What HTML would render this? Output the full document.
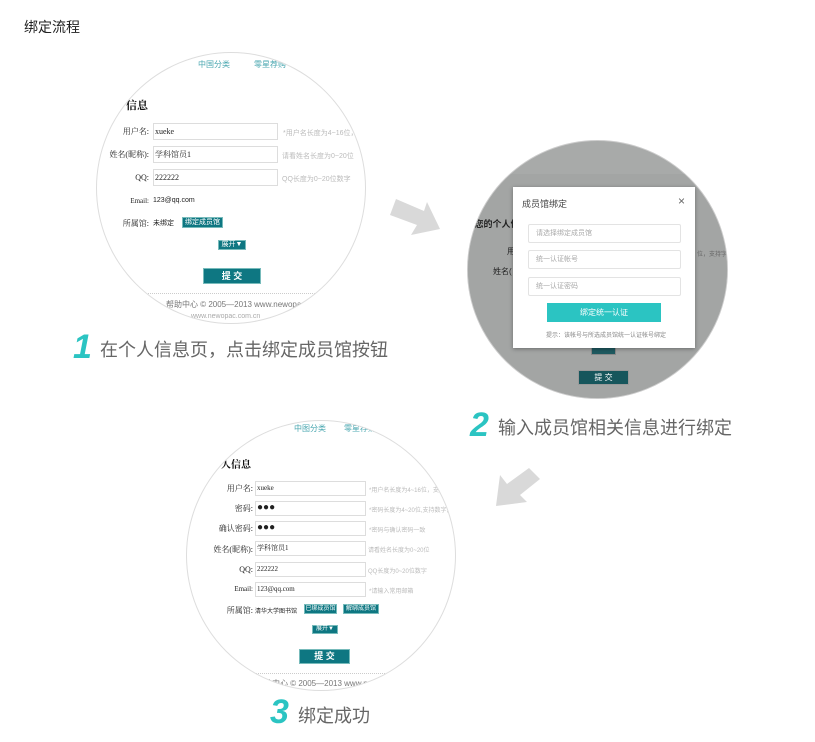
<!DOCTYPE html>
<html><head><meta charset="utf-8">
<style>
*{margin:0;padding:0;box-sizing:border-box}
body{width:815px;height:742px;background:#fff;position:relative;overflow:hidden;font-family:"Liberation Sans","Noto Sans CJK SC",sans-serif}
.a{position:absolute;white-space:nowrap}
.circ{position:absolute;border-radius:50%;overflow:hidden;border:1px solid #ddd;background:#fff}
.in{position:absolute;border:1px solid #ddd;background:#fff;font-size:8px;color:#222;padding-left:1px;line-height:15px;font-family:"Liberation Serif","Noto Serif CJK SC",serif}
.lb{position:absolute;font-size:8px;color:#222;text-align:right;font-family:"Liberation Serif","Noto Serif CJK SC",serif}
.hint{position:absolute;font-size:7px;color:#bbb;white-space:nowrap}
.btn{position:absolute;background:#0e7782;color:#fff;font-size:7px;text-align:center;border:1px solid #7bb}
.nav{position:absolute;font-size:8px;color:#4aa7b0}
.num{position:absolute;font-size:34px;font-weight:bold;font-style:italic;color:#2bc4c2;line-height:34px}
.cap{position:absolute;font-size:18px;color:#666;line-height:22px;white-space:nowrap}
</style></head><body>
<div class="a" style="left:24px;top:17px;font-size:14px;color:#222">绑定流程</div>

<!-- circle 1 -->
<div class="circ" style="left:96px;top:52px;width:270px;height:272px">
 <div style="position:absolute;left:-96px;top:-52px;width:815px;height:742px">
  <div class="nav" style="left:197px;top:58px">中国分类</div>
  <div class="nav" style="left:253px;top:58px">零星荐购</div>
  <div class="a" style="left:125px;top:96px;font-size:11px;font-weight:bold;color:#111;font-family:'Liberation Serif','Noto Serif CJK SC',serif">信息</div>
  <div class="lb" style="left:90px;top:125px;width:58px">用户名:</div>
  <div class="in" style="left:152px;top:122px;width:125px;height:17px">xueke</div>
  <div class="hint" style="left:282px;top:127px">*用户名长度为4~16位，支</div>
  <div class="lb" style="left:90px;top:148px;width:58px">姓名(昵称):</div>
  <div class="in" style="left:152px;top:145px;width:125px;height:17px">学科馆员1</div>
  <div class="hint" style="left:281px;top:150px">请看姓名长度为0~20位</div>
  <div class="lb" style="left:90px;top:172px;width:58px">QQ:</div>
  <div class="in" style="left:152px;top:168px;width:125px;height:17px">222222</div>
  <div class="hint" style="left:281px;top:173px">QQ长度为0~20位数字</div>
  <div class="lb" style="left:90px;top:196px;width:58px;font-size:7px">Email:</div>
  <div class="a" style="left:152px;top:196px;font-size:7px;color:#222">123@qq.com</div>
  <div class="lb" style="left:90px;top:217px;width:58px">所属馆:</div>
  <div class="a" style="left:152px;top:217px;font-size:7px;color:#222">未绑定</div>
  <div class="btn" style="left:181px;top:216px;width:41px;height:11px;line-height:9px">绑定成员馆</div>
  <div class="btn" style="left:217px;top:239px;width:28px;height:10px;line-height:8px">展开▼</div>
  <div class="btn" style="left:202px;top:267px;width:58px;height:16px;line-height:14px;font-size:9px;font-weight:bold">提 交</div>
  <div style="position:absolute;left:110px;top:292px;width:250px;border-top:1px dotted #ccc"></div>
  <div class="a" style="left:165px;top:298px;font-size:8px;color:#777">帮助中心 © 2005—2013 www.newopac</div>
  <div class="a" style="left:190px;top:312px;font-size:7px;color:#aaa">www.newopac.com.cn</div>
 </div>
</div>
<div class="num" style="left:73px;top:330px">1</div>
<div class="cap" style="left:100px;top:339px">在个人信息页，点击绑定成员馆按钮</div>

<svg class="a" style="left:0;top:0" width="815" height="742">
 <polygon points="396,199 424,211 427,202 440,229 411,235 417,225 390,215" fill="#d9d9d9"/>
 <polygon points="529,468 540,479 520,495 527,502 496,506 500,475 507,484" fill="#d9d9d9"/>
</svg>

<!-- circle 2 -->
<div class="circ" style="left:467px;top:140px;width:261px;height:259px;background:#a8aaa9;border-color:#ccc">
 <div style="position:absolute;left:-467px;top:-140px;width:815px;height:742px">
  <div style="position:absolute;left:467px;top:173px;width:270px;height:230px;background:#a3a5a4"></div>
  <div class="a" style="left:485px;top:184px;font-size:8px;color:#3f7f84">书</div>
  <div class="a" style="left:471px;top:216px;font-size:9px;font-weight:bold;color:#222">,您的个人信</div>
  <div class="a" style="left:506px;top:245px;font-size:8px;color:#222">用</div>
  <div class="a" style="left:492px;top:265px;font-size:8px;color:#222">姓名(</div>
  <div class="a" style="left:696px;top:248px;font-size:6px;color:#666">位，支持字母</div>
  <div class="btn" style="left:590px;top:346px;width:25px;height:8px;border-color:#888;background:#1e5a60"></div>
  <div class="btn" style="left:577px;top:369px;width:51px;height:15px;line-height:13px;font-size:8px;background:#16565c;border-color:#999">提 交</div>
  <div style="position:absolute;left:512px;top:186px;width:182px;height:161px;background:#fff;box-shadow:0 1px 4px rgba(0,0,0,.35)">
   <div class="a" style="left:9px;top:10px;font-size:9px;color:#444">成员馆绑定</div>
   <div class="a" style="left:165px;top:7px;font-size:12px;color:#666">×</div>
   <div class="in" style="left:15px;top:37px;width:153px;height:19px;line-height:17px;font-size:7px;color:#aaa;padding-left:7px;border-color:#e3e3e3;border-radius:2px;font-family:inherit">请选择绑定成员馆</div>
   <div class="in" style="left:15px;top:63px;width:153px;height:19px;line-height:17px;font-size:7px;color:#aaa;padding-left:7px;border-color:#e3e3e3;border-radius:2px;font-family:inherit">统一认证帐号</div>
   <div class="in" style="left:15px;top:90px;width:153px;height:19px;line-height:17px;font-size:7px;color:#aaa;padding-left:7px;border-color:#e3e3e3;border-radius:2px;font-family:inherit">统一认证密码</div>
   <div style="position:absolute;left:34px;top:116px;width:114px;height:19px;background:#2bc4c2;color:#fff;font-size:8px;text-align:center;line-height:19px">绑定统一认证</div>
   <div class="a" style="left:33px;top:143px;font-size:6px;color:#888">提示：该帐号与所选成员馆统一认证帐号绑定</div>
  </div>
 </div>
</div>
<div class="num" style="left:470px;top:408px">2</div>
<div class="cap" style="left:498px;top:417px">输入成员馆相关信息进行绑定</div>

<!-- circle 3 -->
<div class="circ" style="left:186px;top:420px;width:270px;height:271px">
 <div style="position:absolute;left:-186px;top:-420px;width:815px;height:742px">
  <div class="nav" style="left:293px;top:422px">中图分类</div>
  <div class="nav" style="left:343px;top:422px">零星荐购</div>
  <div class="a" style="left:220px;top:455px;font-size:10px;font-weight:bold;color:#111;font-family:'Liberation Serif','Noto Serif CJK SC',serif">人信息</div>
  <div class="lb" style="left:190px;top:482px;width:62px">用户名:</div>
  <div class="in" style="left:254px;top:480px;width:111px;height:15px;line-height:13px;font-size:7px">xueke</div>
  <div class="hint" style="left:368px;top:484px;font-size:6px">*用户名长度为4~16位，支持</div>
  <div class="lb" style="left:190px;top:502px;width:62px">密码:</div>
  <div class="in" style="left:254px;top:500px;width:111px;height:15px;line-height:12px;font-size:10px">●●●</div>
  <div class="hint" style="left:368px;top:504px;font-size:6px">*密码长度为4~20位,支持数字,</div>
  <div class="lb" style="left:190px;top:522px;width:62px">确认密码:</div>
  <div class="in" style="left:254px;top:520px;width:111px;height:15px;line-height:12px;font-size:10px">●●●</div>
  <div class="hint" style="left:368px;top:524px;font-size:6px">*密码与确认密码一致</div>
  <div class="lb" style="left:190px;top:543px;width:62px">姓名(昵称):</div>
  <div class="in" style="left:254px;top:540px;width:111px;height:15px;line-height:13px;font-size:7px">学科馆员1</div>
  <div class="hint" style="left:367px;top:544px;font-size:6px">请看姓名长度为0~20位</div>
  <div class="lb" style="left:190px;top:564px;width:62px">QQ:</div>
  <div class="in" style="left:254px;top:561px;width:111px;height:15px;line-height:13px;font-size:7px">222222</div>
  <div class="hint" style="left:367px;top:565px;font-size:6px">QQ长度为0~20位数字</div>
  <div class="lb" style="left:190px;top:584px;width:62px;font-size:7px">Email:</div>
  <div class="in" style="left:254px;top:581px;width:111px;height:15px;line-height:13px;font-size:7px">123@qq.com</div>
  <div class="hint" style="left:368px;top:585px;font-size:6px">*请输入常用邮箱</div>
  <div class="lb" style="left:190px;top:604px;width:62px">所属馆:</div>
  <div class="a" style="left:254px;top:605px;font-size:6px;color:#222">清华大学图书馆</div>
  <div class="btn" style="left:303px;top:603px;width:33px;height:10px;line-height:8px;font-size:6px">已绑成员馆</div>
  <div class="btn" style="left:342px;top:603px;width:36px;height:10px;line-height:8px;font-size:6px">解绑成员馆</div>
  <div class="btn" style="left:311px;top:624px;width:26px;height:9px;line-height:7px;font-size:6px">展开▼</div>
  <div class="btn" style="left:298px;top:648px;width:51px;height:15px;line-height:13px;font-size:9px;font-weight:bold">提 交</div>
  <div style="position:absolute;left:200px;top:672px;width:250px;border-top:1px dotted #ccc"></div>
  <div class="a" style="left:255px;top:677px;font-size:8px;color:#777">帮助中心 © 2005—2013 www.newopac</div>
 </div>
</div>
<div class="num" style="left:270px;top:695px">3</div>
<div class="cap" style="left:298px;top:705px">绑定成功</div>
</body></html>
